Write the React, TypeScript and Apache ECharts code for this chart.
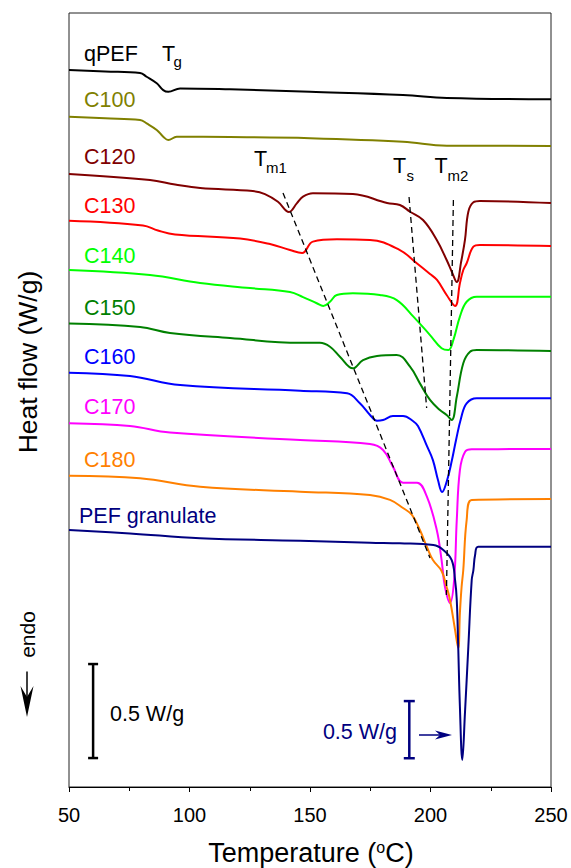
import React, { useEffect, useRef } from 'react';
import * as echarts from 'echarts';

// Temperature axis ticks (°C)
const xTicks = [50, 100, 150, 200, 250];

// Curves: [temperature °C, heat flow (W/g, stacked offset)]
const qPEF: [number, number][] = [
  [50, 3.814], [65, 3.806], [79.5, 3.798], [82.2, 3.778], [86.4, 3.743], [89.1, 3.707], [91.2, 3.698],
  [96.1, 3.716], [116.8, 3.711], [150, 3.698], [188.6, 3.681], [206.8, 3.665], [250, 3.658],
];
const C100: [number, number][] = [
  [50, 3.565], [65, 3.557], [79.5, 3.548], [82.2, 3.53], [86.4, 3.495], [89.1, 3.459], [91.2, 3.441],
  [94.7, 3.459], [116.8, 3.457], [150, 3.451], [188.6, 3.432], [206.8, 3.411], [250, 3.41],
];
const C120: [number, number][] = [
  [50, 3.261], [83.6, 3.229], [94.0, 3.205], [104.4, 3.186], [126.3, 3.17], [131.3, 3.154], [136.7, 3.113],
  [141.3, 3.059], [144.6, 3.106], [147.1, 3.14], [151.2, 3.158], [167.8, 3.154], [182.0, 3.106],
  [187.3, 3.096], [191.5, 3.06], [196.9, 3.016], [202.6, 2.91], [206.7, 2.803], [208.9, 2.739],
  [210.9, 2.686], [212.7, 2.793], [214.3, 2.91], [215.7, 3.06], [217.8, 3.11], [220.5, 3.117],
  [250, 3.106],
];
const C130: [number, number][] = [
  [50, 3.012], [80.7, 2.987], [86.9, 2.96], [94.0, 2.939], [121.0, 2.917], [133.4, 2.888], [141.7, 2.856],
  [146.7, 2.84], [151.2, 2.901], [161.2, 2.913], [174.9, 2.91], [187.3, 2.856], [194.3, 2.786],
  [199.8, 2.729], [202.7, 2.697], [206.7, 2.617], [210.2, 2.559], [212.2, 2.679], [213.6, 2.75],
  [215.0, 2.786], [217.8, 2.874], [220.5, 2.883], [250, 2.878],
];
const C140: [number, number][] = [
  [50, 2.75], [83.6, 2.723], [104.4, 2.681], [125.1, 2.654], [141.7, 2.633], [147.1, 2.606],
  [152.8, 2.573], [155.5, 2.559], [158.3, 2.581], [161.1, 2.617], [167.8, 2.626], [179.0, 2.617],
  [186.0, 2.59], [192.9, 2.502], [199.8, 2.404], [204.6, 2.334], [207.4, 2.324], [209.5, 2.378],
  [212.2, 2.502], [215.0, 2.581], [219.2, 2.608], [250, 2.608],
];
const C150: [number, number][] = [
  [50, 2.466], [79.5, 2.447], [91.9, 2.415], [116.8, 2.388], [145.9, 2.363], [154.1, 2.363],
  [158.3, 2.342], [162.4, 2.289], [167.8, 2.227], [172.0, 2.271], [177.8, 2.293], [186.0, 2.298],
  [191.5, 2.236], [195.6, 2.147], [199.8, 2.059], [203.9, 2.005], [206.7, 1.979], [208.8, 1.952],
  [210.9, 2.076], [213.6, 2.254], [216.4, 2.315], [219.2, 2.324], [250, 2.319],
];
const C160: [number, number][] = [
  [50, 2.204], [75.3, 2.186], [96.1, 2.138], [145.9, 2.108], [165.4, 2.094], [170.7, 2.041],
  [174.9, 1.979], [177.8, 1.948], [180.3, 1.952], [184.4, 1.973], [188.6, 1.973], [192.7, 1.947],
  [194.8, 1.92], [198.5, 1.814], [201.0, 1.739], [203.1, 1.633], [204.8, 1.569], [206.8, 1.628],
  [208.9, 1.739], [210.6, 1.846], [212.7, 1.963], [215.0, 2.041], [219.2, 2.068], [250, 2.068],
];
const C170: [number, number][] = [
  [50, 1.935], [75.3, 1.92], [91.9, 1.885], [145.9, 1.846], [174.9, 1.824], [180.3, 1.793],
  [184.4, 1.704], [188.6, 1.619], [194.4, 1.619], [198.5, 1.544], [202.6, 1.367], [204.6, 1.207],
  [206.0, 1.065], [208.1, 0.979], [209.8, 1.101], [210.9, 1.42], [212.2, 1.686], [214.3, 1.782],
  [217.1, 1.796], [250, 1.798],
];
const C180: [number, number][] = [
  [50, 1.656], [79.5, 1.642], [104.4, 1.597], [145.9, 1.571], [174.9, 1.553], [183.2, 1.527],
  [188.6, 1.484], [192.3, 1.447], [195.6, 1.367], [198.5, 1.277], [201.0, 1.207], [204.6, 1.149],
  [206.7, 1.064], [208.1, 0.995], [210.2, 0.835], [211.5, 0.739], [212.2, 0.926], [212.9, 1.064],
  [213.6, 1.154], [215.0, 1.42], [217.1, 1.527], [250, 1.532],
];
const PEFgranulate: [number, number][] = [
  [50, 1.367], [75.3, 1.349], [104.4, 1.323], [145.9, 1.31], [174.9, 1.299], [187.3, 1.296],
  [201.2, 1.287], [205.3, 1.261], [208.8, 1.207], [210.2, 1.101], [210.9, 0.995], [211.5, 0.746],
  [212.2, 0.427], [213.2, 0.144], [214.3, 0.394], [215.7, 0.746], [217.1, 1.101], [217.8, 1.154],
  [218.5, 1.234], [219.8, 1.278], [250, 1.278],
];

// Guide lines through transition temperatures
const Tm1Line: [number, number][] = [[138.8, 3.16], [199.8, 1.218]];
const TsLine: [number, number][] = [[191.1, 3.138], [198.4, 2.016]];
const Tm2Line: [number, number][] = [[209.5, 3.122], [206.6, 1.021]];

// Scale bars (0.5 W/g)
const scaleBarBlack: [number, number][] = [[60, 0.154], [60, 0.654]];
const scaleBarNavy: [number, number][] = [[191.2, 0.153], [191.2, 0.457]];

const curveNames = ['qPEF', 'C100', 'C120', 'C130', 'C140', 'C150', 'C160', 'C170', 'C180', 'PEF granulate'];
const curveData = [qPEF, C100, C120, C130, C140, C150, C160, C170, C180, PEFgranulate];
const curveColors = ['#000000', '#808000', '#800000', '#ff0000', '#00ff00', '#008000', '#0000ff', '#ff00ff', '#ff8000', '#000080'];
const labelY = [53.5, 100, 157, 206, 256, 307.5, 357, 407, 460, 515.5];
const labelX = [84, 84, 84, 84, 84, 84, 84, 84, 84, 79];

const FONT = '"Liberation Sans", Arial, sans-serif';

export default function App() {
  const ref = useRef<HTMLDivElement>(null);
  useEffect(() => {
    document.body.style.margin = '0';
    if (!ref.current) return;
    const chart = echarts.init(ref.current, null, { renderer: 'svg' });

    const series: any[] = curveData.map((d, i) => ({
      type: 'line',
      name: curveNames[i],
      data: d,
      showSymbol: false,
      smooth: 0.4,
      lineStyle: { color: curveColors[i], width: 2 },
      itemStyle: { color: curveColors[i] },
      z: 2,
    }));
    [Tm1Line, TsLine, Tm2Line].forEach((d) => {
      series.push({
        type: 'line', data: d, showSymbol: false, silent: true, z: 3,
        lineStyle: { color: '#000', width: 1.3, type: [6, 4] },
      });
    });
    series.push({
      type: 'line', data: scaleBarBlack, symbol: 'rect', symbolSize: [10, 2.5], showSymbol: true,
      lineStyle: { color: '#000', width: 2.5 }, itemStyle: { color: '#000' }, z: 3,
    });
    series.push({
      type: 'line', data: scaleBarNavy, symbol: 'rect', symbolSize: [11, 2.5], showSymbol: true,
      lineStyle: { color: '#000080', width: 2.5 }, itemStyle: { color: '#000080' }, z: 3,
    });

    const graphic: any[] = [];
    curveNames.forEach((n, i) => {
      graphic.push({
        type: 'text', x: labelX[i], y: labelY[i],
        style: { text: n, fill: curveColors[i], fontSize: 21.5, fontFamily: FONT, align: 'left', verticalAlign: 'middle' },
      });
    });
    const sub = (main: string, s: string, x: number, y: number, sx: number, sy: number) => {
      graphic.push({ type: 'text', x, y, style: { text: main, fill: '#000', fontSize: 21.5, fontFamily: FONT, align: 'left', verticalAlign: 'middle' } });
      graphic.push({ type: 'text', x: sx, y: sy, style: { text: s, fill: '#000', fontSize: 15, fontFamily: FONT, align: 'left', verticalAlign: 'middle' } });
    };
    sub('T', 'g', 162, 54, 173.5, 61);
    sub('T', 'm1', 254, 159, 266, 167);
    sub('T', 's', 393, 166, 406.5, 175);
    sub('T', 'm2', 434.5, 166, 447.5, 175);

    graphic.push({
      type: 'text', x: 110, y: 714,
      style: { text: '0.5 W/g', fill: '#000', fontSize: 21.5, fontFamily: FONT, align: 'left', verticalAlign: 'middle' },
    });
    graphic.push({
      type: 'text', x: 397, y: 732,
      style: { text: '0.5 W/g', fill: '#000080', fontSize: 21.5, fontFamily: FONT, align: 'right', verticalAlign: 'middle' },
    });
    // navy arrow
    graphic.push({ type: 'line', shape: { x1: 419, y1: 735, x2: 441, y2: 735 }, style: { stroke: '#000080', lineWidth: 1.5 } });
    graphic.push({ type: 'polygon', shape: { points: [[452, 735], [435, 730.5], [440, 735], [435, 739.5]] }, style: { fill: '#000080' } });
    // endo arrow
    graphic.push({ type: 'line', shape: { x1: 27, y1: 671.5, x2: 27, y2: 700 }, style: { stroke: '#000', lineWidth: 1.5 } });
    graphic.push({ type: 'polygon', shape: { points: [[27, 717], [20.5, 686], [27, 697], [33.5, 686]] }, style: { fill: '#000' } });
    graphic.push({
      type: 'text', x: 27, y: 634.5, rotation: Math.PI / 2,
      style: { text: 'endo', fill: '#000', fontSize: 21, fontFamily: FONT, align: 'center', verticalAlign: 'middle' },
    });
    // axis titles
    graphic.push({
      type: 'text', x: 28, y: 362, rotation: Math.PI / 2,
      style: { text: 'Heat flow (W/g)', fill: '#000', fontSize: 26.5, fontFamily: FONT, align: 'center', verticalAlign: 'middle' },
    });
    graphic.push({
      type: 'text', x: 311, y: 853,
      style: {
        text: 'Temperature ({sup|o}C)', fill: '#000', fontSize: 27, fontFamily: FONT, align: 'center', verticalAlign: 'middle',
        rich: { sup: { fontSize: 16, fontFamily: FONT, fill: '#000', verticalAlign: 'top', lineHeight: 27 } },
      },
    });

    chart.setOption({
      animation: false,
      backgroundColor: '#ffffff',
      grid: { left: 69, right: 20, top: 13, bottom: 81, show: true, borderColor: '#222', borderWidth: 1 },
      xAxis: {
        type: 'value', min: xTicks[0], max: xTicks[xTicks.length - 1], interval: 50,
        axisLine: { show: true, lineStyle: { color: '#000', width: 1 } },
        axisTick: { show: true, inside: false, length: 5, lineStyle: { color: '#000' } },
        minorTick: { show: true, splitNumber: 2, length: 4, lineStyle: { color: '#000' } },
        splitLine: { show: false },
        minorSplitLine: { show: false },
        axisLabel: { fontSize: 20, color: '#000', fontFamily: FONT, margin: 18 },
      },
      yAxis: { type: 'value', min: 0, max: 4.117, show: false, splitLine: { show: false } },
      series,
      graphic,
    });
    return () => chart.dispose();
  }, []);
  return <div ref={ref} style={{ width: 571, height: 868 }} />;
}
